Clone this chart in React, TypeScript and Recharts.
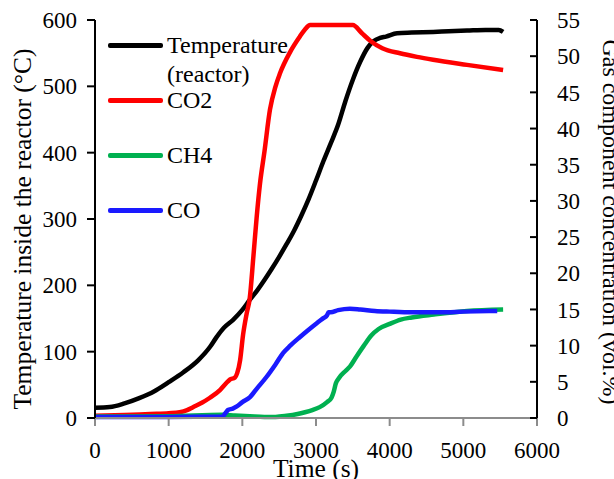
import React from "react";
import {
  LineChart,
  Line,
  XAxis,
  YAxis,
  Legend,
  Label,
} from "recharts";

// time (s) -> value
const temperature: [number, number][] = [
  [0, 15.5], [200, 16.5], [400, 22], [600, 30], [800, 40], [1000, 54],
  [1200, 69], [1400, 87], [1560, 107], [1650, 122], [1750, 136], [1875, 148],
  [2000, 163], [2100, 178], [2200, 192], [2300, 208], [2400, 225], [2500, 243],
  [2600, 262], [2700, 282], [2800, 305], [2900, 330], [3000, 358], [3100, 387],
  [3200, 414], [3300, 442], [3400, 478], [3500, 510], [3600, 537], [3700, 558],
  [3780, 568], [3870, 573], [3950, 575], [4100, 580], [4300, 581], [4590, 582],
  [4800, 583], [5050, 584], [5300, 585], [5480, 585], [5540, 582],
];

const co2: [number, number][] = [
  [0, 0.3], [400, 0.4], [750, 0.55], [1000, 0.65], [1150, 0.8], [1250, 1.1],
  [1330, 1.5], [1450, 2.1], [1560, 2.8], [1700, 3.9], [1780, 4.8], [1830, 5.3],
  [1900, 5.6], [1930, 6.2], [1970, 8.0], [2010, 11.5], [2060, 14.5], [2100, 16.5],
  [2150, 22.3], [2195, 27.8], [2240, 32.4], [2300, 36.8], [2375, 42.6],
  [2450, 45.8], [2510, 47.6], [2650, 50.6], [2780, 52.7], [2850, 53.7],
  [2920, 54.3], [3500, 54.3], [3620, 53.2], [3740, 52.1], [3900, 51.1],
  [4140, 50.4], [4370, 49.9], [4590, 49.5], [5050, 48.8], [5540, 48.1],
];

const ch4: [number, number][] = [
  [0, 0.2], [1000, 0.25], [1725, 0.45], [1900, 0.35], [2100, 0.25], [2300, 0.15],
  [2450, 0.15], [2600, 0.3], [2750, 0.55], [2850, 0.8], [2950, 1.1], [3050, 1.5],
  [3150, 2.2], [3210, 2.8], [3240, 3.6], [3270, 4.8], [3310, 5.5], [3400, 6.5],
  [3460, 7.1], [3550, 8.5], [3650, 10.0], [3750, 11.4], [3850, 12.3], [4000, 13.0],
  [4150, 13.6], [4300, 13.9], [4600, 14.3], [5050, 14.8], [5540, 15.0],
];

const co: [number, number][] = [
  [0, 0.15], [1000, 0.15], [1725, 0.2], [1780, 0.8], [1805, 1.1], [1870, 1.3],
  [1925, 1.6], [2000, 2.2], [2104, 2.9], [2200, 4.1], [2330, 5.7], [2450, 7.4],
  [2555, 9.0], [2650, 10.0], [2783, 11.2], [2900, 12.2], [3010, 13.1],
  [3100, 13.8], [3150, 14.2], [3170, 14.6], [3200, 14.6], [3300, 14.9],
  [3460, 15.1], [3600, 15.0], [3800, 14.8], [4000, 14.7], [4300, 14.6],
  [4700, 14.6], [5000, 14.7], [5460, 14.8],
];

const seriesNames = ["Temperature\n(reactor)", "CO2", "CH4", "CO"];

const timeTicks = [0, 1000, 2000, 3000, 4000, 5000, 6000];
const tempTicks = [0, 100, 200, 300, 400, 500, 600];
const gasTicks = [0, 5, 10, 15, 20, 25, 30, 35, 40, 45, 50, 55];

const FONT = "'Liberation Serif', 'Times New Roman', serif";
const AXIS_GREY = "#8c8c8c";

const toRows = (pts: [number, number][]) => pts.map(([t, v]) => ({ t, v }));

// where each legend row sits (centre of the swatch line)
const LEGEND_TOP = [45, 100, 155, 210];

function renderLegend(props: any) {
  const payload = props.payload || [];
  return (
    <div style={{ position: "relative", width: 0, height: 0 }}>
      {seriesNames.map((name, i) => {
        const p = payload.find((e: any) => e.value === name);
        if (!p) return null;
        return (
          <div
            key={`lg-${i}`}
            style={{
              position: "absolute",
              left: 108,
              top: LEGEND_TOP[i] - 14,
              display: "flex",
              alignItems: "flex-start",
              whiteSpace: "nowrap",
            }}
          >
            <span
              style={{
                display: "inline-block",
                width: 55,
                height: 5,
                marginTop: 12,
                borderRadius: 2,
                background: p.color,
              }}
            />
            <span
              style={{
                marginLeft: 4,
                fontFamily: FONT,
                fontSize: 24,
                lineHeight: "29px",
                whiteSpace: "pre",
                color: "#000",
              }}
            >
              {p.value}
            </span>
          </div>
        );
      })}
    </div>
  );
}

// right axis: ticks point inward, label sits outside
function GasTick(props: any) {
  const { x, y, payload } = props;
  return (
    <g>
      <line x1={x - 27} x2={x - 20} y1={y} y2={y} stroke="#000" strokeWidth={2} />
      <text x={x} y={y} dy="0.355em" textAnchor="start" fontSize={23} fill="#000" fontFamily={FONT}>
        {payload.value}
      </text>
    </g>
  );
}

export default function App() {
  return (
    <div style={{ position: "absolute", left: 0, top: 0, width: 614, height: 479, background: "#fff" }}>
      <LineChart
        width={614}
        height={479}
        margin={{ top: 20, right: 0, bottom: 0, left: 0 }}
        style={{ fontFamily: FONT }}
      >
        <XAxis
          xAxisId="top"
          orientation="top"
          type="number"
          domain={[0, 6000]}
          height={0}
          tick={false}
          tickLine={false}
          axisLine={{ stroke: "#000", strokeWidth: 2 }}
        />
        <XAxis
          dataKey="t"
          type="number"
          domain={[0, 6000]}
          ticks={timeTicks}
          height={61}
          tickSize={8}
          tickMargin={16}
          interval={0}
          axisLine={{ stroke: AXIS_GREY, strokeWidth: 2 }}
          tickLine={{ stroke: AXIS_GREY, strokeWidth: 2 }}
          tick={{ fontSize: 23, fill: "#000", fontFamily: FONT }}
        >
          <Label
            content={({ viewBox }: any) => (
              <text
                x={viewBox.x + viewBox.width / 2}
                y={viewBox.y + 59}
                textAnchor="middle"
                fontSize={25.5}
                fill="#000"
                fontFamily={FONT}
              >
                Time (s)
              </text>
            )}
          />
        </XAxis>
        <YAxis
          yAxisId="left"
          domain={[0, 600]}
          ticks={tempTicks}
          width={95}
          tickSize={8}
          tickMargin={10}
          interval={0}
          axisLine={{ stroke: "#000", strokeWidth: 2 }}
          tickLine={{ stroke: "#000", strokeWidth: 2 }}
          tick={{ fontSize: 23, fill: "#000", fontFamily: FONT }}
        >
          <Label
            content={({ viewBox }: any) => {
              const cx = viewBox.x + 31;
              const cy = viewBox.y + viewBox.height / 2 + 10;
              return (
                <text
                  x={cx}
                  y={cy}
                  transform={`rotate(-90, ${cx}, ${cy})`}
                  textAnchor="middle"
                  fontSize={25.5}
                  fill="#000"
                  fontFamily={FONT}
                >
                  Temperature inside the reactor (°C)
                </text>
              );
            }}
          />
        </YAxis>
        <YAxis
          yAxisId="right"
          orientation="right"
          domain={[0, 55]}
          ticks={gasTicks}
          width={77}
          tickSize={0}
          tickMargin={20}
          interval={0}
          tickLine={false}
          axisLine={{ stroke: "#000", strokeWidth: 2 }}
          tick={<GasTick />}
        >
          <Label
            content={({ viewBox }: any) => {
              const cx = viewBox.x + 66;
              const cy = viewBox.y + viewBox.height / 2 + 3;
              return (
                <text
                  x={cx}
                  y={cy}
                  transform={`rotate(90, ${cx}, ${cy})`}
                  textAnchor="middle"
                  fontSize={24}
                  fill="#000"
                  fontFamily={FONT}
                >
                  Gas component concentration (vol.%)
                </text>
              );
            }}
          />
        </YAxis>

        <Legend
          content={renderLegend}
          verticalAlign="middle"
          align="center"
          wrapperStyle={{ left: 0, top: 0, width: 0, height: 0 }}
        />

        <Line
          yAxisId="left"
          data={toRows(temperature)}
          dataKey="v"
          name={seriesNames[0]}
          type="monotone"
          stroke="#000000"
          strokeWidth={4.5}
          dot={false}
          isAnimationActive={false}
        />
        <Line
          yAxisId="right"
          data={toRows(co2)}
          dataKey="v"
          name={seriesNames[1]}
          type="monotone"
          stroke="#ff0000"
          strokeWidth={4.5}
          dot={false}
          isAnimationActive={false}
        />
        <Line
          yAxisId="right"
          data={toRows(ch4)}
          dataKey="v"
          name={seriesNames[2]}
          type="monotone"
          stroke="#00b050"
          strokeWidth={4.5}
          dot={false}
          isAnimationActive={false}
        />
        <Line
          yAxisId="right"
          data={toRows(co)}
          dataKey="v"
          name={seriesNames[3]}
          type="monotone"
          stroke="#1a1aff"
          strokeWidth={4.5}
          dot={false}
          isAnimationActive={false}
        />
      </LineChart>
    </div>
  );
}
